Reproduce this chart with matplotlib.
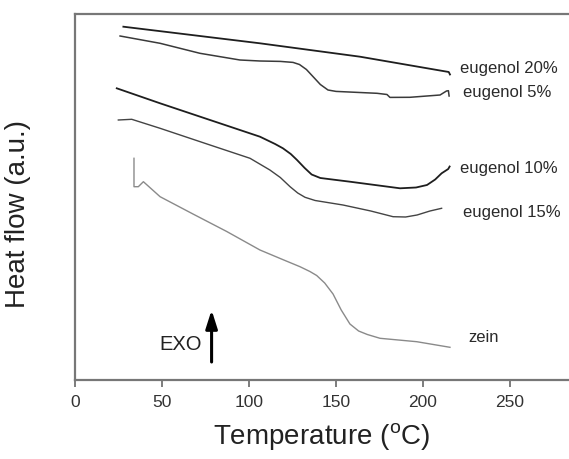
import matplotlib
matplotlib.use("Agg")
import matplotlib.pyplot as plt

plt.rcParams['font.family'] = ['Liberation Sans', 'DejaVu Sans']
plt.rcParams['mathtext.fontset'] = 'custom'
plt.rcParams['mathtext.rm'] = 'Liberation Sans'

# ---- data (temperature in °C, heat flow in arbitrary units) ----
t_eug20 = [27.8, 71.8, 106.3, 163.8, 214.8, 215.5]
hf_eug20 = [353.3, 344.0, 336.7, 323.3, 308.0, 305.5]

t_eug5 = [25.9, 48.9, 71.8, 94.8, 106.3, 118.0, 125.3, 129.0, 133.0, 137.0,
          141.0, 145.4, 150.0, 173.6, 179.3, 181.0, 192.5, 209.8, 213.5, 214.6, 215.0]
hf_eug5 = [344.0, 336.7, 326.7, 320.0, 319.0, 318.6, 317.6, 315.5, 310.5, 303.0,
           295.5, 290.0, 288.6, 286.7, 285.5, 282.6, 282.7, 285.0, 289.0, 289.3, 284.0]

t_eug10 = [24.0, 48.9, 77.6, 106.3, 115.0, 119.5, 124.0, 127.6, 132.0, 136.0,
           141.0, 158.0, 186.8, 196.0, 202.3, 207.0, 210.7, 214.5, 215.3]
hf_eug10 = [291.7, 276.7, 260.0, 243.3, 236.0, 231.7, 226.0, 220.0, 212.0, 205.5,
            202.0, 198.3, 191.7, 192.5, 195.0, 200.5, 206.7, 211.0, 213.5]

t_eug15 = [24.9, 32.6, 48.9, 77.6, 100.6, 112.0, 118.0, 123.6, 128.0, 132.2,
           138.0, 154.0, 170.0, 182.8, 190.0, 196.6, 204.0, 210.7]
hf_eug15 = [260.0, 260.7, 251.7, 235.0, 221.7, 210.0, 202.5, 193.3, 187.0, 182.7,
            179.5, 175.0, 169.0, 163.3, 163.0, 165.0, 169.0, 171.7]

t_zein = [33.9, 33.9, 36.4, 39.3, 48.9, 67.8, 87.2, 106.3, 120.0, 129.3, 135.0,
          138.9, 143.5, 148.3, 153.0, 158.0, 163.0, 168.0, 175.3, 196.4, 215.5]
hf_zein = [221.7, 193.3, 193.3, 198.3, 183.3, 166.0, 148.5, 130.0, 120.0, 113.3,
           108.5, 104.5, 97.0, 86.0, 70.0, 56.0, 49.0, 45.5, 41.7, 38.3, 32.7]

curve_labels = ['eugenol 20%', 'eugenol 5%', 'eugenol 10%', 'eugenol 15%', 'zein']
label_x = [221.0, 223.0, 221.3, 223.0, 226.0]
label_y = [311.0, 287.0, 212.0, 168.0, 42.0]
x_ticks = [0, 50, 100, 150, 200, 250]

fig = plt.figure(figsize=(5.69, 4.59), dpi=100)
ax = fig.add_axes([75/569, 79/459, 494/569, 366/459])

ax.plot(t_eug20, hf_eug20, color='#1e1e1e', lw=1.3)
ax.plot(t_eug5, hf_eug5, color='#3a3a3a', lw=1.1)
ax.plot(t_eug10, hf_eug10, color='#1e1e1e', lw=1.3)
ax.plot(t_eug15, hf_eug15, color='#444444', lw=1.0)
ax.plot(t_zein, hf_zein, color='#8a8a8a', lw=1.0)

for lab, lx, ly in zip(curve_labels, label_x, label_y):
    ax.text(lx, ly, lab, fontsize=12, color='#2a2a2a', va='center', ha='left')

# EXO arrow
ax.annotate('', xy=(78.5, 70), xytext=(78.5, 18),
            arrowprops=dict(arrowstyle='-|>,head_length=1.1,head_width=0.35',
                            color='black', lw=2.2, shrinkA=0, shrinkB=0))
ax.text(72.8, 35, 'EXO', fontsize=14.5, color='#222222', ha='right', va='center')

ax.set_xlim(0, 494/1.74)
ax.set_ylim(0, 366)
ax.set_xticks(x_ticks)
ax.set_yticks([])
ax.tick_params(axis='x', direction='out', length=5, width=1.2, colors='#666666',
               labelsize=12.5, labelcolor='#333333', pad=6)
for s in ['left', 'bottom', 'top']:
    ax.spines[s].set_color('#777777')
    ax.spines[s].set_linewidth(1.6)
ax.spines['right'].set_visible(False)

ax.set_xlabel('Temperature ($^{\\mathrm{o}}$C)', fontsize=20, color='#222222', labelpad=8)
ax.set_ylabel('Heat flow (a.u.)', fontsize=20, color='#222222')
ax.yaxis.set_label_coords(-0.089, 0.454)

fig.savefig('out.png', dpi=100)
